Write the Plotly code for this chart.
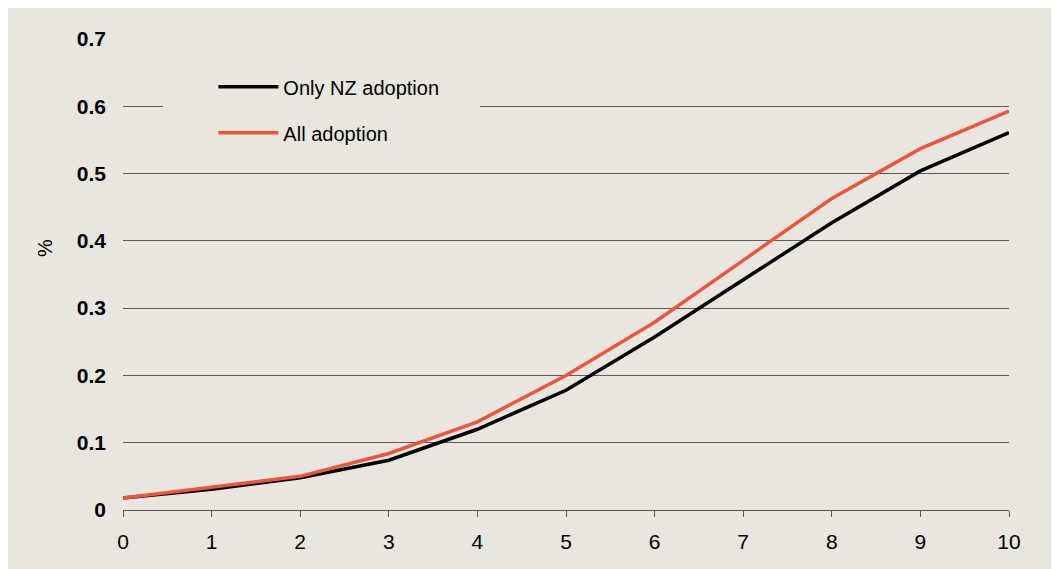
import plotly.graph_objects as go

years = [0, 1, 2, 3, 4, 5, 6, 7, 8, 9, 10]
only_nz = [0.018, 0.031, 0.048, 0.074, 0.120, 0.178, 0.257, 0.342, 0.427, 0.504, 0.561]
all_adoption = [0.018, 0.034, 0.050, 0.084, 0.131, 0.200, 0.279, 0.371, 0.463, 0.537, 0.593]
y_ticks = [0, 0.1, 0.2, 0.3, 0.4, 0.5, 0.6, 0.7]
y_tick_labels = ["0", "0.1", "0.2", "0.3", "0.4", "0.5", "0.6", "0.7"]
y_title = "%"

BG = "#E9E6E0"
FONT = "Liberation Sans, Arial, sans-serif"

fig = go.Figure()
fig.add_trace(go.Scatter(x=years, y=only_nz, mode="lines", name="Only NZ adoption",
                         line=dict(color="#000000", width=3.5), legendgroup="a"))
fig.add_trace(go.Scatter(x=years, y=all_adoption, mode="lines", name="All adoption",
                         line=dict(color="#F0553A", width=3.5), legendgroup="b"))

fig.update_layout(
    width=1059, height=569,
    margin=dict(l=115, r=58, t=31, b=67),
    paper_bgcolor=BG,
    plot_bgcolor=BG,
    font=dict(family=FONT, size=20, color="#000000"),
    showlegend=True,
    legend=dict(x=0.102, y=0.94, xanchor="left", yanchor="top",
                bgcolor=BG, font=dict(size=20), itemwidth=60,
                tracegroupgap=17, traceorder="grouped"),
    shapes=[dict(type="rect", xref="paper", yref="y", layer="above",
                 x0=40 / 886, x1=357 / 886, y0=0.585, y1=0.615,
                 fillcolor=BG, line=dict(width=0))],
    annotations=[dict(text=y_title, xref="paper", yref="paper",
                      x=-78 / 886, y=262 / 471, xanchor="center", yanchor="middle",
                      textangle=-90, showarrow=False, font=dict(size=20))],
)

fig.update_xaxes(range=[0, 10], tickmode="array", tickvals=years,
                 ticks="outside", ticklen=6, tickcolor="#555555", tickwidth=1.3,
                 showline=True, linecolor="#555555", linewidth=1.3,
                 showgrid=False, zeroline=False, ticklabelstandoff=7,
                 tickfont=dict(size=21))
fig.update_yaxes(range=[0, 0.7], tickmode="array", tickvals=y_ticks, ticktext=y_tick_labels,
                 showgrid=True, gridcolor="#5a5a5a", gridwidth=1.3,
                 zeroline=False, showline=False, ticks="",
                 ticklabelstandoff=16,
                 tickfont=dict(size=21, family=FONT, weight="bold"))

fig.write_html("out.html")
